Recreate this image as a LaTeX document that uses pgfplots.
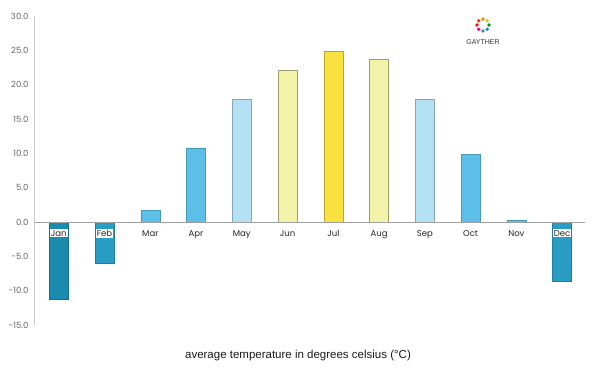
\documentclass[border=0pt]{standalone}
\usepackage{pgfplots}
\pgfplotsset{compat=1.18}
\usepackage{fontspec}
\setmainfont{Liberation Sans}
\newfontfamily\tickfont{Poppins}
\definecolor{cJan}{HTML}{1A8AAD}
\definecolor{cFeb}{HTML}{2A9DC4}
\definecolor{cMid}{HTML}{5BBFE8}
\definecolor{cLight}{HTML}{B3E0F2}
\definecolor{cPale}{HTML}{F2F2A8}
\definecolor{cJul}{HTML}{F9E13F}
\definecolor{axgray}{HTML}{C8C8C8}
\begin{document}
\begin{tikzpicture}
\path[use as bounding box] (-35pt,-50pt) rectangle (565pt,325pt);
\begin{axis}[
  at={(0pt,0pt)}, anchor=south west,
  scale only axis, width=550pt, height=309pt,
  xmin=-0.52, xmax=11.5, ymin=-15, ymax=30,
  axis x line=middle, axis y line=left,
  axis on top,
  x axis line style={draw=axgray!80!black, line width=0.8pt, -},
  y axis line style={draw=axgray, line width=1pt, -},
  xtick={0,...,11},
  xticklabels={Jan,Feb,Mar,Apr,May,Jun,Jul,Aug,Sep,Oct,Nov,Dec},
  ytick={-15,-10,...,30},
  major tick length=0pt,
  xticklabel style={font=\tickfont\fontsize{8.5}{10}\selectfont, text=black!85, fill=white, inner sep=1pt, yshift=-7pt},
  yticklabel style={font=\tickfont\fontsize{8.5}{10}\selectfont, text=black!60, xshift=-3pt},
  /pgf/number format/.cd, fixed, fixed zerofill, precision=1, assume math mode=true,
  /pgfplots/.cd,
  ybar, bar width=19pt,
  every axis plot/.append style={bar shift=0pt, line width=0.6pt},
  clip=false,
]
\addplot[fill=cJan, draw=cJan!80!black] coordinates {(0,-11.2)};
\addplot[fill=cFeb, draw=cFeb!80!black] coordinates {(1,-6.0) (11,-8.7)};
\addplot[fill=cMid, draw=cMid!80!black] coordinates {(2,1.7) (3,10.8) (9,9.8) (10,0.3)};
\addplot[fill=cLight, draw=cLight!75!black] coordinates {(4,17.9) (8,17.9)};
\addplot[fill=cPale, draw=cPale!65!black] coordinates {(5,22.1) (7,23.7)};
\addplot[fill=cJul, draw=cJul!75!black] coordinates {(6,24.9)};
\end{axis}
% axis title
\node[font=\fontsize{11.5}{13}\selectfont, text=black!90] at (263pt,-31pt) {average temperature in degrees celsius (°C)};
% logo
\begin{scope}[shift={(448pt,300pt)}]
\foreach \a/\c in {90/orange, 45/yellow!70!green, 0/green!60!black, -45/cyan!70!blue, -90/cyan!60!black, -135/magenta, 180/red, 135/red!70!orange}{
  \fill[\c] (\a:6pt) circle (1.8pt);
}
\node[font=\fontsize{7}{8}\selectfont, text=black!80] at (0,-17pt) {GAYTHER};
\end{scope}
\end{tikzpicture}
\end{document}
